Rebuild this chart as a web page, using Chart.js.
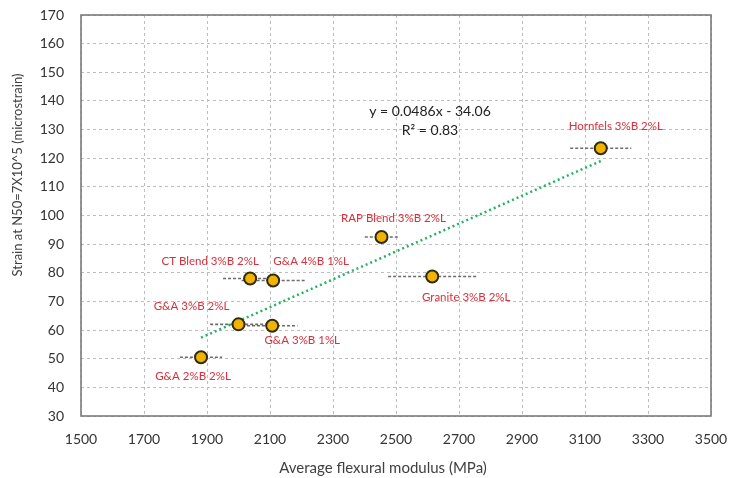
<!DOCTYPE html>
<html>
<head>
<meta charset="utf-8">
<script src="https://cdn.jsdelivr.net/npm/chart.js@4/dist/chart.umd.min.js"></script>
<style>
  html, body { margin: 0; padding: 0; background: #ffffff; }
  #wrap { width: 729px; height: 478px; }
</style>
</head>
<body>
<div id="wrap"><canvas id="chart" width="729" height="478"></canvas></div>
<script>
// Mix designs and their measured values
const mixNames = [
  'G&A 2%B 2%L', 'G&A 3%B 2%L', 'G&A 3%B 1%L', 'CT Blend 3%B 2%L',
  'G&A 4%B 1%L', 'RAP Blend 3%B 2%L', 'Granite 3%B 2%L', 'Hornfels 3%B 2%L'
];
const flexuralModulus = [1881, 2000, 2107, 2037, 2110, 2454, 2615, 3150];   // MPa
const strainN50 = [50.5, 62, 61.5, 78, 77.3, 92.5, 78.7, 123.5];            // microstrain
const modulusSpread = [67, 90, 80, 86, 100, 53, 140, 97];                   // +/- MPa

// Axis ticks
const xTicks = [1500, 1700, 1900, 2100, 2300, 2500, 2700, 2900, 3100, 3300, 3500];
const yTicks = [30, 40, 50, 60, 70, 80, 90, 100, 110, 120, 130, 140, 150, 160, 170];

// Linear trend reported for the data set
const trendSlope = 0.0486;
const trendIntercept = -34.06;
const trendR2 = 0.83;

// Label placement (pixel offset of each label centre from its marker)
const labelOffsets = [
  [-8, 19], [-47, -18], [30, 15], [-40, -17],
  [38, -19], [12, -19], [34, 21], [15, -22]
];

const FONT = 'Lato, "Open Sans", "Liberation Sans", sans-serif';

const points = flexuralModulus.map((x, i) => ({ x: x, y: strainN50[i] }));
const xMin = Math.min(...flexuralModulus);
const xMax = Math.max(...flexuralModulus);
const trendPoints = [xMin, xMax].map(x => ({ x: x, y: trendSlope * x + trendIntercept }));

// Horizontal dashed bars showing the modulus spread, drawn under the markers
const spreadBars = {
  id: 'spreadBars',
  beforeDatasetsDraw(chart) {
    const { ctx, scales: { x, y } } = chart;
    ctx.save();
    ctx.strokeStyle = '#6b6b6b';
    ctx.lineWidth = 1.6;
    ctx.setLineDash([3, 2]);
    flexuralModulus.forEach((m, i) => {
      const py = y.getPixelForValue(strainN50[i]);
      ctx.beginPath();
      ctx.moveTo(x.getPixelForValue(m - modulusSpread[i]), py);
      ctx.lineTo(x.getPixelForValue(m + modulusSpread[i]), py);
      ctx.stroke();
    });
    ctx.restore();
  }
};

// Mix labels, trend equation, axis titles and frame
const annotations = {
  id: 'annotations',
  afterDatasetsDraw(chart) {
    const { ctx, chartArea: a, scales: { x, y } } = chart;
    ctx.save();
    // frame
    ctx.strokeStyle = '#7a7a7a';
    ctx.lineWidth = 1.6;
    ctx.strokeRect(a.left, a.top, a.right - a.left, a.bottom - a.top);

    // mix labels
    ctx.fillStyle = '#d6303c';
    ctx.font = '11.5px ' + FONT;
    ctx.textAlign = 'center';
    ctx.textBaseline = 'middle';
    mixNames.forEach((name, i) => {
      const px = x.getPixelForValue(flexuralModulus[i]) + labelOffsets[i][0];
      const py = y.getPixelForValue(strainN50[i]) + labelOffsets[i][1];
      ctx.fillText(name, px, py);
    });

    // trend equation
    ctx.fillStyle = '#222222';
    ctx.font = '14px ' + FONT;
    const sign = trendIntercept < 0 ? ' - ' : ' + ';
    ctx.fillText('y = ' + trendSlope + 'x' + sign + Math.abs(trendIntercept).toFixed(2), a.left + 349, a.top + 96);
    ctx.fillText('R\u00B2 = ' + trendR2.toFixed(2), a.left + 349, a.top + 115);

    // axis titles
    ctx.fillStyle = '#404040';
    ctx.font = '15px ' + FONT;
    ctx.fillText('Average flexural modulus (MPa)', 383, 468);
    ctx.font = '13px ' + FONT;
    ctx.translate(18, 175);
    ctx.rotate(-Math.PI / 2);
    ctx.fillText('Strain at N50=7X10^5 (microstrain)', 0, 0);
    ctx.restore();
  }
};

new Chart(document.getElementById('chart'), {
  type: 'scatter',
  data: {
    datasets: [
      {
        label: 'Strain at N50',
        data: points,
        pointRadius: 6,
        pointHoverRadius: 6,
        pointBackgroundColor: '#efb300',
        pointBorderColor: '#2f2a10',
        pointBorderWidth: 2,
        order: 1
      },
      {
        type: 'line',
        label: 'Linear trend',
        data: trendPoints,
        borderColor: '#22b266',
        borderWidth: 2.5,
        borderDash: [2, 3],
        pointRadius: 0,
        fill: false,
        order: 2
      }
    ]
  },
  options: {
    responsive: false,
    animation: false,
    layout: { padding: { top: 15, right: 18, left: 0, bottom: 0 } },
    plugins: {
      legend: { display: false },
      tooltip: { enabled: false }
    },
    scales: {
      x: {
        type: 'linear',
        min: xTicks[0],
        max: xTicks[xTicks.length - 1],
        afterBuildTicks: s => { s.ticks = xTicks.map(v => ({ value: v })); },
        afterFit: s => { s.height = 62; s.paddingLeft = 0; s.paddingRight = 0; },
        ticks: {
          padding: 15,
          color: '#333333',
          font: { family: FONT, size: 14 },
          maxRotation: 0,
          callback: v => String(v)
        },
        grid: {
          color: '#bdbdbd',
          lineWidth: 1,
          drawTicks: false
        },
        border: { display: false, dash: [3, 3] }
      },
      y: {
        type: 'linear',
        min: yTicks[0],
        max: yTicks[yTicks.length - 1],
        afterBuildTicks: s => { s.ticks = yTicks.map(v => ({ value: v })); },
        afterFit: s => { s.width = 81; s.paddingTop = 0; s.paddingBottom = 0; },
        ticks: {
          padding: 17,
          color: '#333333',
          font: { family: FONT, size: 14 },
          callback: v => String(v)
        },
        grid: {
          color: '#bdbdbd',
          lineWidth: 1,
          drawTicks: false
        },
        border: { display: false, dash: [3, 3] }
      }
    }
  },
  plugins: [spreadBars, annotations]
});
</script>
</body>
</html>
